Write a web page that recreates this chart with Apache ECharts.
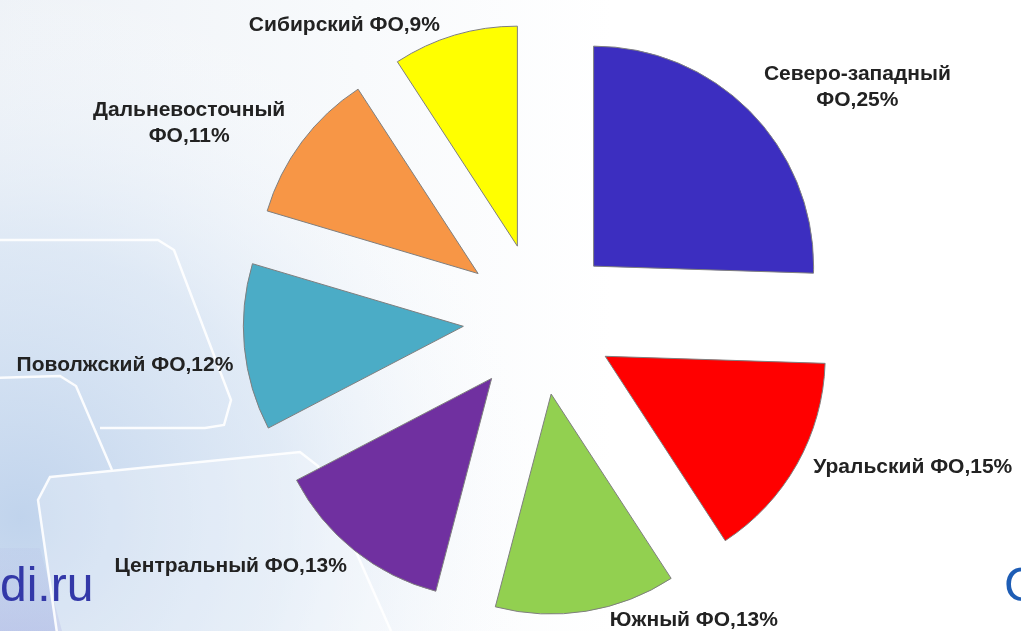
<!DOCTYPE html>
<html>
<head>
<meta charset="utf-8">
<script src="https://cdn.jsdelivr.net/npm/echarts@6/dist/echarts.min.js"></script>
<style>
  html, body { margin: 0; padding: 0; background: #ffffff; }
  #chart { width: 1021px; height: 631px; }
</style>
</head>
<body>
<div id="chart"></div>
<script>
// data
const regions = [
  "Северо-западный ФО",
  "Уральский ФО",
  "Южный ФО",
  "Центральный ФО",
  "Поволжский ФО",
  "Дальневосточный ФО",
  "Сибирский ФО",
];
const shares = [25, 15, 13, 13, 12, 11, 9];

// look
const sliceColors = ["#3c2ec0", "#ff0000", "#92d050", "#7030a0", "#4bacc6", "#f79646", "#ffff00"];
const twoLine = [true, false, false, false, false, true, false];
const lineLen = [8, 5, 9, 4, 6, 12, 10];
const lineLen2 = [0, 7, 17, 0, 0, 0, 7];
const labelPad = [[0, 0, 40, 0], 0, 0, [26, 0, 0, 0], [34, 0, 0, 0], [0, 0, 24, 0], 0];
const blockWidth = [190, 260, 260, 280, 260, 196, 260];

const labelFont = {
  fontFamily: "Liberation Sans, Arial, sans-serif",
  fontWeight: "bold",
  fontSize: 21,
  color: "#222222",
};

const myChart = echarts.init(document.getElementById("chart"));

const data = regions.map((name, i) => {
  return {
    name: name,
    value: shares[i],
    selected: true,
    itemStyle: { color: sliceColors[i] },
    labelLine: { length: lineLen[i], length2: lineLen2[i] },
    label: {
      padding: labelPad[i],
      width: blockWidth[i],
      rich: {
        c: Object.assign({ width: blockWidth[i], align: "center", lineHeight: 26 }, labelFont),
      },
    },
  };
});

const option = {
  animation: false,
  graphic: [
    {
      type: "rect",
      silent: true,
      z: -10,
      shape: { x: 0, y: 0, width: 1021, height: 631 },
      style: {
        fill: new echarts.graphic.LinearGradient(0, 0, 1, 0, [
          { offset: 0, color: "#eef2f7" },
          { offset: 0.35, color: "#f8fafc" },
          { offset: 0.6, color: "#ffffff" },
          { offset: 1, color: "#ffffff" },
        ]),
      },
    },
    {
      type: "rect",
      silent: true,
      z: -9,
      shape: { x: 0, y: 0, width: 1021, height: 631 },
      style: {
        fill: new echarts.graphic.RadialGradient(0.02, 0.82, 0.85, [
          { offset: 0, color: "rgba(190,210,236,0.95)" },
          { offset: 0.5, color: "rgba(210,225,243,0.6)" },
          { offset: 1, color: "rgba(255,255,255,0)" },
        ]),
      },
    },
    {
      type: "polygon",
      silent: true,
      z: -8,
      shape: { points: [[0, 548], [40, 548], [62, 631], [0, 631]] },
      style: {
        fill: new echarts.graphic.LinearGradient(0, 0, 0, 1, [
          { offset: 0, color: "rgba(176,184,228,0.15)" },
          { offset: 1, color: "rgba(170,176,226,0.45)" },
        ]),
      },
    },
    {
      type: "polyline",
      silent: true,
      z: -7,
      shape: { points: [[-5, 240], [158, 240], [174, 250], [231, 400], [224, 425], [205, 428], [100, 428]] },
      style: { stroke: "rgba(255,255,255,0.9)", lineWidth: 2.5, fill: null },
    },
    {
      type: "polyline",
      silent: true,
      z: -7,
      shape: { points: [[-5, 378], [60, 376], [76, 386], [112, 470]] },
      style: { stroke: "rgba(255,255,255,0.9)", lineWidth: 2.5, fill: null },
    },
    {
      type: "polygon",
      silent: true,
      z: -7,
      shape: { points: [[50, 477], [300, 452], [318, 466], [395, 640], [58, 640], [38, 500]] },
      style: { stroke: "rgba(255,255,255,0.9)", lineWidth: 2.5, fill: "rgba(255,255,255,0.25)" },
    },
    {
      type: "text",
      silent: true,
      z: -5,
      style: {
        x: 0,
        y: 612,
        text: "di.ru",
        fill: "#3338a8",
        font: "48px 'Liberation Sans', Arial, sans-serif",
        verticalAlign: "bottom",
      },
    },
    {
      type: "text",
      silent: true,
      z: -5,
      style: {
        x: 1004,
        y: 612,
        text: "C",
        fill: "#1e5db5",
        font: "48px 'Liberation Sans', Arial, sans-serif",
        verticalAlign: "bottom",
      },
    },
  ],
  series: [
    {
      type: "pie",
      center: [539, 319],
      radius: 220,
      startAngle: 90,
      clockwise: true,
      selectedMode: "multiple",
      selectedOffset: 76,
      avoidLabelOverlap: false,
      emphasis: { disabled: true },
      itemStyle: { borderColor: "#7f7f7f", borderWidth: 1 },
      select: { itemStyle: { borderColor: "#7f7f7f", borderWidth: 1 } },
      label: Object.assign(
        {
          show: true,
          position: "outside",
          bleedMargin: 0,
          distanceToLabelLine: 5,
          formatter: (p) => {
            const text = p.name + "," + p.value + "%";
            if (!twoLine[p.dataIndex]) return text;
            const cut = p.name.lastIndexOf(" ");
            return "{c|" + p.name.slice(0, cut) + "}\n{c|" + p.name.slice(cut + 1) + "," + p.value + "%}";
          },
        },
        labelFont
      ),
      labelLine: { show: false },
      data: data,
    },
  ],
};

myChart.setOption(option);
</script>
</body>
</html>
